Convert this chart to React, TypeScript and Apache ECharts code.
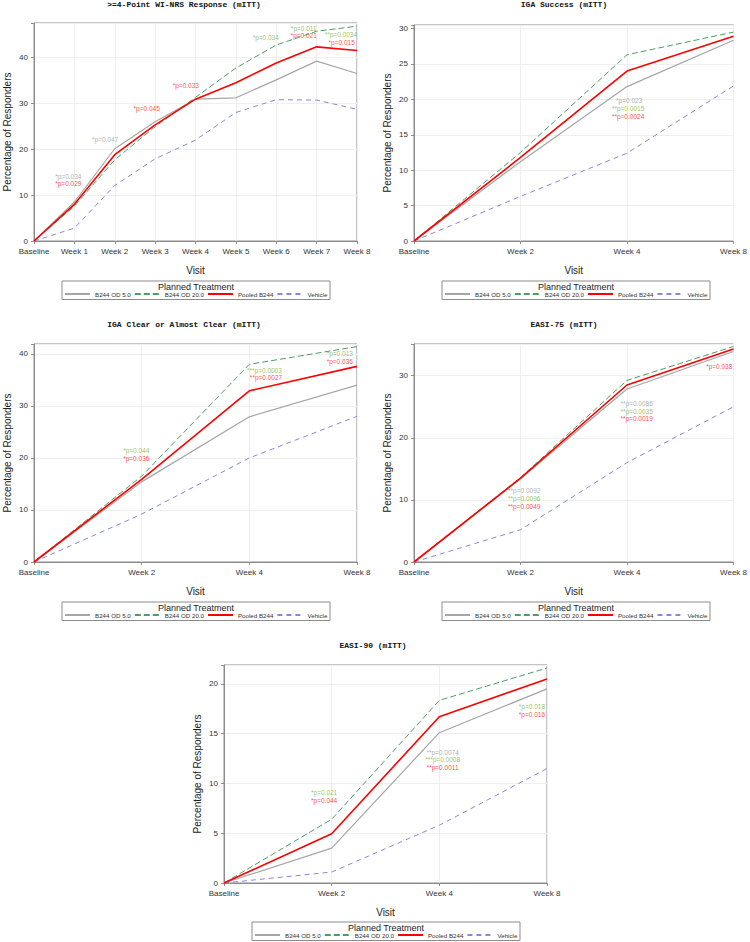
import React, { useEffect, useRef } from "react";
import * as echarts from "echarts";

const CATS9 = ["Baseline", "Week 1", "Week 2", "Week 3", "Week 4", "Week 5", "Week 6", "Week 7", "Week 8"];
const CATS4 = ["Baseline", "Week 2", "Week 4", "Week 8"];
const SERIES_NAMES = ["B244 OD 5.0", "B244 OD 20.0", "Pooled B244", "Vehicle"];

const TITLES = [
  ">=4-Point WI-NRS Response (mITT)",
  "IGA Success (mITT)",
  "IGA Clear or Almost Clear (mITT)",
  "EASI-75 (mITT)",
  "EASI-90 (mITT)",
];

// Panel 1: WI-NRS
const p1Gray = [0, 8.5, 20.1, 26.0, 30.9, 31.2, 35.1, 39.2, 36.5];
const p1Green = [0, 7.6, 17.7, 24.9, 31.3, 37.7, 42.7, 45.7, 46.8];
const p1Red = [0, 8.0, 18.8, 25.3, 30.9, 34.5, 38.8, 42.3, 41.5];
const p1Veh = [0, 2.8, 12.1, 17.9, 22.0, 28.0, 30.8, 30.7, 28.7];
// Panel 2: IGA Success
const p2Gray = [0, 11.2, 21.8, 28.35];
const p2Green = [0, 12.5, 26.3, 29.5];
const p2Red = [0, 11.8, 24.0, 28.9];
const p2Veh = [0, 6.3, 12.4, 21.9];
// Panel 3: IGA Clear or Almost Clear
const p3Gray = [0, 15.4, 27.9, 34.0];
const p3Green = [0, 16.5, 38.0, 41.4];
const p3Red = [0, 15.9, 32.9, 37.6];
const p3Veh = [0, 9.2, 20.0, 28.0];
// Panel 4: EASI-75
const p4Gray = [0, 13.4, 27.85, 33.9];
const p4Green = [0, 13.6, 29.25, 34.7];
const p4Red = [0, 13.5, 28.5, 34.3];
const p4Veh = [0, 5.2, 16.0, 25.0];
// Panel 5: EASI-90
const p5Gray = [0, 3.5, 15.1, 19.5];
const p5Green = [0, 6.4, 18.35, 21.6];
const p5Red = [0, 4.95, 16.7, 20.5];
const p5Veh = [0, 1.1, 5.8, 11.5];

// annotations: [x index, y value, text, color key]
const ann1: [number, number, string, string][] = [
  [0.85, 14.0, "*p=0.034", "g"],
  [0.85, 12.5, "*p=0.029", "r"],
  [1.76, 22.2, "*p=0.047", "g"],
  [2.79, 28.8, "*p=0.045", "r"],
  [3.76, 33.9, "*p=0.033", "r"],
  [5.74, 44.3, "*p=0.034", "n"],
  [6.68, 46.4, "*p=0.011", "n"],
  [6.68, 44.7, "*p=0.021", "r"],
  [7.6, 44.9, "**p=0.0034", "n"],
  [7.62, 43.3, "*p=0.015", "r"],
];
const ann2: [number, number, string, string][] = [
  [2.02, 19.9, "*p=0.023", "g"],
  [2.01, 18.7, "**p=0.0015", "n"],
  [2.01, 17.6, "**p=0.0024", "r"],
];
const ann3: [number, number, string, string][] = [
  [0.95, 21.4, "*p=0.044", "n"],
  [0.95, 19.9, "*p=0.036", "r"],
  [2.14, 36.9, "***p=0.0003", "n"],
  [2.155, 35.4, "**p=0.0027", "r"],
  [2.84, 40.0, "*p=0.013", "n"],
  [2.84, 38.5, "*p=0.036", "r"],
];
const ann4: [number, number, string, string][] = [
  [2.866, 31.4, "*p=0.038", "r"],
  [2.09, 25.5, "**p=0.0086", "g"],
  [2.09, 24.3, "**p=0.0035", "n"],
  [2.09, 23.1, "**p=0.0019", "r"],
  [1.035, 11.45, "**p=0.0092", "g"],
  [1.035, 10.2, "**p=0.0096", "n"],
  [1.035, 8.9, "**p=0.0049", "r"],
];
const ann5: [number, number, string, string][] = [
  [2.86, 17.7, "*p=0.018", "n"],
  [2.86, 16.9, "*p=0.016", "r"],
  [2.03, 13.1, "**p=0.0074", "g"],
  [2.03, 12.4, "***p=0.0008", "n"],
  [2.03, 11.6, "**p=0.0011", "r"],
  [0.93, 9.1, "*p=0.021", "n"],
  [0.93, 8.3, "*p=0.044", "r"],
];

const ANN_COLORS: Record<string, string> = { g: "#9a9a9a", n: "#7cb342", r: "#ff1a1a" };
const FONT = "'Liberation Sans', Arial, sans-serif";
const MONO = "'Liberation Mono', 'Courier New', monospace";

const LINE_STYLES = [
  { color: "#a6a6a6", width: 1.2, type: "solid" as any },
  { color: "#4e9e62", width: 1, type: [6, 3] as any },
  { color: "#ff0000", width: 1.6, type: "solid" as any },
  { color: "#8888d8", width: 1, type: [5, 4] as any },
];

const PANELS = [
  { cats: CATS9, data: [p1Gray, p1Green, p1Red, p1Veh], ann: ann1, ymax: 47.5, step: 10, grid: { left: 34, top: 23, width: 323, height: 218 }, titleX: 184, titleY: 4, nameX: 6, legend: { x: 62, y: 281 } },
  { cats: CATS4, data: [p2Gray, p2Green, p2Red, p2Veh], ann: ann2, ymax: 30.5, step: 5, grid: { left: 414, top: 25, width: 323, height: 216 }, titleX: 564, titleY: 4, nameX: 386, legend: { x: 442, y: 281 } },
  { cats: CATS4, data: [p3Gray, p3Green, p3Red, p3Veh], ann: ann3, ymax: 41.9, step: 10, grid: { left: 34, top: 344, width: 323, height: 218 }, titleX: 184, titleY: 324, nameX: 6, legend: { x: 62, y: 602 } },
  { cats: CATS4, data: [p4Gray, p4Green, p4Red, p4Veh], ann: ann4, ymax: 35.1, step: 10, grid: { left: 414, top: 344, width: 323, height: 218 }, titleX: 564, titleY: 324, nameX: 386, legend: { x: 442, y: 602 } },
  { cats: CATS4, data: [p5Gray, p5Green, p5Red, p5Veh], ann: ann5, ymax: 21.9, step: 5, grid: { left: 224, top: 665, width: 323, height: 218 }, titleX: 373, titleY: 645, nameX: 196, legend: { x: 252, y: 922 } },
];

function buildOption() {
  const grid: any[] = [];
  const xAxis: any[] = [];
  const yAxis: any[] = [];
  const series: any[] = [];
  const legend: any[] = [];
  const graphic: any[] = [];

  PANELS.forEach((p, i) => {
    grid.push({ ...p.grid, show: true, borderColor: "#8c8c8c", borderWidth: 1, backgroundColor: "transparent" });
    const cats = p.cats;
    xAxis.push({
      type: "value",
      gridIndex: i,
      min: 0,
      max: cats.length - 1,
      interval: 1,
      name: "Visit",
      nameLocation: "middle",
      nameGap: 24,
      nameTextStyle: { fontSize: 10, color: "#222", fontFamily: FONT },
      axisLine: { show: true, lineStyle: { color: "#8c8c8c" } },
      axisTick: { show: true, length: 3, lineStyle: { color: "#8c8c8c" } },
      axisLabel: {
        fontSize: 8,
        color: "#333",
        fontFamily: FONT,
        margin: 6,
        formatter: (v: number) => (Number.isInteger(v) ? cats[v] ?? "" : ""),
      },
      splitLine: { show: true, lineStyle: { color: "#efefef", width: 1 } },
    });
    yAxis.push({
      type: "value",
      gridIndex: i,
      min: 0,
      max: p.ymax,
      interval: p.step,
      name: "Percentage of Responders",
      nameLocation: "middle",
      nameGap: p.grid.left - p.nameX - 6,
      nameRotate: 90,
      nameTextStyle: { fontSize: 10, color: "#222", fontFamily: FONT },
      axisLine: { show: true, lineStyle: { color: "#8c8c8c" } },
      axisTick: { show: true, length: 3, lineStyle: { color: "#8c8c8c" } },
      axisLabel: {
        fontSize: 8,
        color: "#333",
        fontFamily: FONT,
        margin: 6,
        formatter: (v: number) => (Math.abs(v / p.step - Math.round(v / p.step)) < 1e-6 ? String(Math.round(v)) : ""),
      },
      splitLine: { show: true, lineStyle: { color: "#efefef", width: 1 } },
    });
    p.data.forEach((arr, k) => {
      series.push({
        type: "line",
        name: SERIES_NAMES[k],
        xAxisIndex: i,
        yAxisIndex: i,
        data: arr.map((v, j) => [j, v]),
        symbol: "none",
        lineStyle: LINE_STYLES[k],
        itemStyle: { color: LINE_STYLES[k].color },
        z: k === 2 ? 4 : 3,
        silent: true,
      });
    });
    series.push({
      type: "scatter",
      name: "ann" + i,
      xAxisIndex: i,
      yAxisIndex: i,
      symbolSize: 1,
      itemStyle: { color: "rgba(0,0,0,0)" },
      silent: true,
      z: 5,
      data: p.ann.map((a) => ({
        value: [a[0], a[1]],
        label: {
          show: true,
          position: "inside",
          formatter: a[2],
          color: ANN_COLORS[a[3]],
          fontSize: 6.5,
          fontFamily: FONT,
        },
      })),
    });
    legend.push({
      data: SERIES_NAMES,
      left: p.legend.x + 2,
      top: p.legend.y + 10,
      orient: "horizontal",
      itemWidth: 25,
      itemHeight: 6,
      itemGap: 3,
      padding: 0,
      selectedMode: false,
      itemStyle: { opacity: 0, borderWidth: 0 },
      textStyle: { fontSize: 6.2, color: "#333", fontFamily: FONT },
    });
    graphic.push({
      type: "rect",
      shape: { x: p.legend.x, y: p.legend.y, width: 268, height: 18.5 },
      style: { fill: "none", stroke: "#8c8c8c", lineWidth: 1 },
      silent: true,
    });
    graphic.push({
      type: "text",
      x: p.legend.x + 134,
      y: p.legend.y + 5.5,
      style: { text: "Planned Treatment", fontSize: 9, fontFamily: FONT, fill: "#222", textAlign: "center", textVerticalAlign: "middle", align: "center", verticalAlign: "middle" },
      silent: true,
    });
    graphic.push({
      type: "text",
      x: p.titleX,
      y: p.titleY,
      style: { text: TITLES[i], fontSize: 8, fontWeight: "bold", fontFamily: MONO, fill: "#111", textAlign: "center", textVerticalAlign: "middle", align: "center", verticalAlign: "middle" },
      silent: true,
    });
  });

  return {
    animation: false,
    backgroundColor: "#ffffff",
    grid,
    xAxis,
    yAxis,
    series,
    legend,
    graphic,
  };
}

export default function App() {
  const ref = useRef<HTMLDivElement>(null);
  useEffect(() => {
    if (!ref.current) return;
    const chart = echarts.init(ref.current, undefined, { renderer: "svg" });
    chart.setOption(buildOption() as any);
    return () => chart.dispose();
  }, []);
  return <div ref={ref} style={{ position: "fixed", left: 0, top: 0, width: 750, height: 942, background: "#fff" }} />;
}
